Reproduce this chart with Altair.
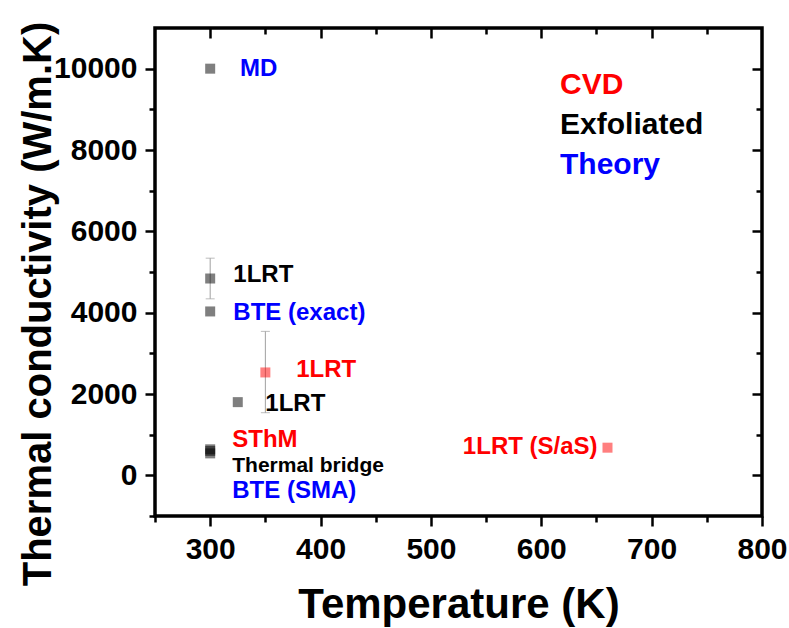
import altair as alt
import pandas as pd

# ---------------- data ----------------
temp_K = [300, 300, 300, 350, 325, 300, 300, 300, 660]
kappa = [10000, 4840, 4030, 2530, 1800, 640, 600, 540, 680]
sample = ["Theory", "Exfoliated", "Theory", "CVD", "Exfoliated", "CVD", "Exfoliated", "Theory", "CVD"]
marker_set = ["A", "A", "A", "B", "A", "A", "A", "A", "B"]

err_temp = [300, 350]
err_low = [4340, 1540]
err_high = [5340, 3540]

label_text = ["MD", "1LRT", "BTE (exact)", "1LRT", "1LRT", "SThM", "Thermal bridge", "BTE (SMA)"]
label_group = ["Theory", "Exfoliated", "Theory", "CVD", "Exfoliated", "CVD", "Exfoliated", "Theory"]
label_x = [327, 321, 321, 378, 350, 320, 320, 320]
label_y = [10000, 4920, 3980, 2580, 1750, 860, 220, -390]

right_label_text = ["1LRT (S/aS)"]
right_label_group = ["CVD"]
right_label_x = [651]
right_label_y = [690]

legend_text = ["CVD", "Exfoliated", "Theory"]
legend_x = [617, 617, 617]
legend_y = [9610, 8610, 7620]

x_major = [300, 400, 500, 600, 700, 800]
x_minor = [250, 350, 450, 550, 650, 750]
x_top_major = [300, 400, 500, 600, 700]
x_top_minor = [350, 450, 550, 650, 750]
y_major = [0, 2000, 4000, 6000, 8000, 10000]
y_minor = [-1000, 1000, 3000, 5000, 7000, 9000]
y_right_minor = [1000, 3000, 5000, 7000, 9000]

# ---------------- tables ----------------
pts = pd.DataFrame({"T": temp_K, "k": kappa, "sample": sample, "marker": marker_set})
errs = pd.DataFrame({"T": err_temp, "lo": err_low, "hi": err_high})
labels = pd.DataFrame({"label": label_text, "group": label_group, "x": label_x, "y": label_y})
rlabels = pd.DataFrame({"label": right_label_text, "group": right_label_group,
                        "x": right_label_x, "y": right_label_y})
legend = pd.DataFrame({"label": legend_text, "group": legend_text, "x": legend_x, "y": legend_y})

FONT = "Liberation Sans"
W, H = 607, 488
xs = alt.Scale(domain=[250, 800], nice=False, zero=False)
ys = alt.Scale(domain=[-1000, 11000], nice=False, zero=False)
col_scale = alt.Scale(domain=["CVD", "Exfoliated", "Theory"], range=["#ff0000", "#000000", "#0000ff"])


def tick_axis(orient, values, size, offset=0):
    return alt.Axis(
        orient=orient, values=values, labels=False, title=None, domain=False, grid=False,
        ticks=True, tickColor="black", tickWidth=2.5, tickSize=size, offset=offset,
    )


points = alt.Chart(pts).mark_square(size=100, opacity=0.5).encode(
    x=alt.X("T:Q", scale=xs, axis=alt.Axis(
        orient="bottom", values=x_major, format="d", domain=False, grid=False,
        tickSize=10, tickWidth=2.5, tickColor="black",
        labelFont=FONT, labelFontSize=30, labelFontWeight="bold", labelColor="black",
        labelPadding=8, labelFlush=False, labelOverlap=False,
        title="Temperature (K)", titleFont=FONT, titleFontSize=42, titleFontWeight="bold",
        titleColor="black", titleX=303.5, titleY=101, titleBaseline="alphabetic", titleAlign="center")),
    y=alt.Y("k:Q", scale=ys, axis=alt.Axis(
        orient="left", values=y_major, format="d", domain=False, grid=False,
        tickSize=10, tickWidth=2.5, tickColor="black",
        labelFont=FONT, labelFontSize=30, labelFontWeight="bold", labelColor="black",
        labelPadding=8, labelFlush=False, labelOverlap=False,
        title="Thermal conductivity (W/m.K)", titleFont=FONT, titleFontSize=40,
        titleFontWeight="bold", titleColor="black", titleX=-105, titleY=275.5,
        titleAngle=270, titleBaseline="alphabetic", titleAlign="center")),
    fill=alt.Fill("marker:N", scale=alt.Scale(domain=["A", "B"], range=["#000000", "#ff0000"]), legend=None),
)

ghost = alt.Chart(pts).mark_point(opacity=0)
# outward minor ticks on bottom / left
minor_out = ghost.encode(
    x=alt.X("T:Q", scale=xs, axis=tick_axis("bottom", x_minor, 6)),
    y=alt.Y("k:Q", scale=ys, axis=tick_axis("left", y_minor, 6)),
)
# inward ticks: a bottom axis moved to the top edge, a left axis moved to the right edge
major_in = ghost.encode(
    x=alt.X("T:Q", scale=xs, axis=tick_axis("bottom", x_top_major, 10, offset=-H)),
    y=alt.Y("k:Q", scale=ys, axis=tick_axis("left", y_major, 10, offset=-W)),
)
minor_in = ghost.encode(
    x=alt.X("T:Q", scale=xs, axis=tick_axis("bottom", x_top_minor, 6, offset=-H)),
    y=alt.Y("k:Q", scale=ys, axis=tick_axis("left", y_right_minor, 6, offset=-W)),
)

errorbars = alt.Chart(errs).mark_errorbar(ticks=True, color="#a0a0a0", thickness=1, size=9).encode(
    x=alt.X("T:Q", scale=xs, axis=None),
    y=alt.Y("lo:Q", scale=ys, axis=None),
    y2="hi:Q",
)

text_left = alt.Chart(labels).mark_text(
    align="left", baseline="middle", font=FONT, fontWeight="bold").encode(
    x=alt.X("x:Q", scale=xs, axis=None),
    y=alt.Y("y:Q", scale=ys, axis=None),
    text="label:N",
    color=alt.Color("group:N", scale=col_scale, legend=None),
    size=alt.condition("datum.label == 'Thermal bridge'", alt.value(21), alt.value(24)),
)

text_right = alt.Chart(rlabels).mark_text(
    align="right", baseline="middle", font=FONT, fontWeight="bold", fontSize=24).encode(
    x=alt.X("x:Q", scale=xs, axis=None),
    y=alt.Y("y:Q", scale=ys, axis=None),
    text="label:N",
    color=alt.Color("group:N", scale=col_scale, legend=None),
)

text_legend = alt.Chart(legend).mark_text(
    align="left", baseline="middle", font=FONT, fontWeight="bold", fontSize=30).encode(
    x=alt.X("x:Q", scale=xs, axis=None),
    y=alt.Y("y:Q", scale=ys, axis=None),
    text="label:N",
    color=alt.Color("group:N", scale=col_scale, legend=None),
)

chart = alt.layer(
    errorbars, points, minor_out, major_in, minor_in,
    text_left, text_right, text_legend
).resolve_axis(
    x="independent", y="independent"
).properties(
    width=W, height=H,
    autosize=alt.AutoSizeParams(type="none"),
    padding={"left": 155, "top": 28, "right": 27, "bottom": 112},
    background="white",
).configure_view(
    stroke="black", strokeWidth=3.5
)

chart.save("out.html", embed_options={"renderer": "svg", "actions": False})
